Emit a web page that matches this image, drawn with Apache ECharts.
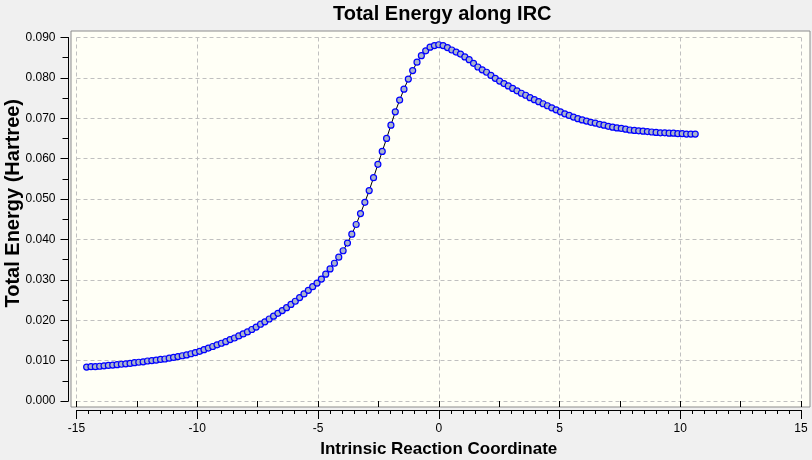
<!DOCTYPE html>
<html>
<head>
<meta charset="utf-8">
<script src="https://cdn.jsdelivr.net/npm/echarts@6/dist/echarts.min.js"></script>
<style>
html,body{margin:0;padding:0;background:#f0f0f0;}
#chart{width:812px;height:460px;}
</style>
</head>
<body>
<div id="chart"></div>
<script>
const titleText = 'Total Energy along IRC';
const xName = 'Intrinsic Reaction Coordinate';
const yName = 'Total Energy (Hartree)';

const irc = [
-14.58,-14.40,-14.22,-14.04,-13.86,-13.68,-13.50,-13.32,-13.14,-12.96,
-12.78,-12.60,-12.42,-12.24,-12.06,-11.88,-11.70,-11.52,-11.34,-11.16,
-10.98,-10.80,-10.62,-10.44,-10.26,-10.08,-9.90,-9.72,-9.54,-9.36,
-9.18,-9.00,-8.82,-8.64,-8.46,-8.28,-8.10,-7.92,-7.74,-7.56,
-7.38,-7.20,-7.02,-6.84,-6.66,-6.48,-6.30,-6.12,-5.94,-5.76,
-5.58,-5.40,-5.22,-5.04,-4.86,-4.68,-4.50,-4.32,-4.14,-3.96,
-3.78,-3.60,-3.42,-3.24,-3.06,-2.88,-2.70,-2.52,-2.34,-2.16,
-1.98,-1.80,-1.62,-1.44,-1.26,-1.08,-0.90,-0.72,-0.54,-0.36,
-0.18,0.00,0.18,0.36,0.54,0.72,0.90,1.08,1.26,1.44,
1.62,1.80,1.98,2.16,2.34,2.52,2.70,2.88,3.06,3.24,
3.42,3.60,3.78,3.96,4.14,4.32,4.50,4.68,4.86,5.04,
5.22,5.40,5.58,5.76,5.94,6.12,6.30,6.48,6.66,6.84,
7.02,7.20,7.38,7.56,7.74,7.92,8.10,8.28,8.46,8.64,
8.82,9.00,9.18,9.36,9.54,9.72,9.90,10.08,10.26,10.44,
10.62
];

const energy = [
0.0084,0.0085,0.0085,0.0086,0.0087,0.0088,0.0089,0.0090,0.0091,0.0092,
0.0093,0.0095,0.0096,0.0097,0.0099,0.0100,0.0101,0.0103,0.0104,0.0106,
0.0108,0.0110,0.0112,0.0114,0.0117,0.0120,0.0123,0.0127,0.0131,0.0135,
0.0139,0.0143,0.0147,0.0152,0.0156,0.0161,0.0166,0.0171,0.0177,0.0183,
0.0190,0.0196,0.0203,0.0210,0.0217,0.0224,0.0231,0.0239,0.0247,0.0256,
0.0265,0.0274,0.0283,0.0292,0.0302,0.0314,0.0327,0.0341,0.0356,0.0372,
0.0391,0.0413,0.0437,0.0464,0.0492,0.0521,0.0553,0.0586,0.0618,0.0650,
0.0683,0.0716,0.0745,0.0772,0.0797,0.0818,0.0839,0.0855,0.0867,0.0876,
0.0880,0.0882,0.0880,0.0875,0.0869,0.0864,0.0859,0.0852,0.0845,0.0836,
0.0827,0.0820,0.0814,0.0806,0.0799,0.0792,0.0786,0.0780,0.0774,0.0768,
0.0762,0.0757,0.0751,0.0746,0.0741,0.0736,0.0731,0.0726,0.0721,0.0716,
0.0711,0.0707,0.0703,0.0699,0.0696,0.0693,0.0690,0.0688,0.0685,0.0683,
0.0680,0.0678,0.0676,0.0675,0.0673,0.0671,0.0670,0.0669,0.0668,0.0667,
0.0666,0.0665,0.0664,0.0664,0.0663,0.0663,0.0662,0.0662,0.0661,0.0661,
0.0661
];

const xMin = -15, xMax = 15, xStep = 5;
const yMin = 0, yMax = 0.09, yStep = 0.01;

const chart = echarts.init(document.getElementById('chart'), null, {renderer: 'canvas'});
const font = '"Liberation Sans", Arial, sans-serif';
const data = irc.map((x, i) => [x, energy[i]]);

chart.setOption({
  backgroundColor: '#f0f0f0',
  animation: false,
  title: {
    text: titleText,
    left: 333,
    top: 4,
    padding: 0,
    textStyle: {fontFamily: font, fontSize: 20, fontWeight: 'bold', color: '#000'}
  },
  grid: [
    {left: 71, right: 2, top: 31, bottom: 53, show: true, backgroundColor: '#fffff6', borderColor: '#8c8c8c', borderWidth: 1, containLabel: false, outerBoundsMode: 'none'},
    {left: 76.5, right: 11, top: 37.5, bottom: 59, containLabel: false, outerBoundsMode: 'none'}
  ],
  xAxis: [
    {gridIndex: 0, type: 'value', show: false, min: 0, max: 1},
    {
      gridIndex: 1, type: 'value', min: xMin, max: xMax, interval: xStep,
      position: 'bottom', offset: 9,
      name: xName, nameLocation: 'middle', nameGap: 31, nameMoveOverlap: false,
      nameTextStyle: {fontFamily: font, fontSize: 17, fontWeight: 'bold', color: '#000'},
      axisLine: {show: true, onZero: false, lineStyle: {color: '#000', width: 1}},
      axisTick: {show: true, length: 9, lineStyle: {color: '#000'}},
      minorTick: {show: true, splitNumber: 10, length: 4, lineStyle: {color: '#000'}},
      axisLabel: {margin: 13, fontFamily: font, fontSize: 12, color: '#000'},
      splitLine: {show: true, lineStyle: {color: '#c0c0c0', type: [4, 3], width: 1}}
    },
    {
      gridIndex: 1, type: 'value', min: xMin, max: xMax, interval: xStep / 2,
      position: 'bottom', offset: 9,
      axisLine: {show: false},
      axisTick: {show: true, length: 6, lineStyle: {color: '#000'}},
      axisLabel: {show: false},
      splitLine: {show: false}
    }
  ],
  yAxis: [
    {gridIndex: 0, type: 'value', show: false, min: 0, max: 1},
    {
      gridIndex: 1, type: 'value', min: yMin, max: yMax, interval: yStep,
      position: 'left', offset: 8,
      name: yName, nameLocation: 'middle', nameGap: 45, nameMoveOverlap: false,
      nameTextStyle: {fontFamily: font, fontSize: 20, fontWeight: 'bold', color: '#000', padding: [0, 0, 0, 32]},
      axisLine: {show: true, onZero: false, lineStyle: {color: '#000', width: 1}},
      axisTick: {show: true, length: 8, lineStyle: {color: '#000'}},
      minorTick: {show: true, splitNumber: 2, length: 6, lineStyle: {color: '#000'}},
      axisLabel: {margin: 13, fontFamily: font, fontSize: 12, color: '#000', formatter: v => v.toFixed(3)},
      splitLine: {show: true, lineStyle: {color: '#c0c0c0', type: [4, 3], width: 1}}
    }
  ],
  series: [{
    type: 'line',
    xAxisIndex: 1, yAxisIndex: 1,
    data: data,
    symbol: 'circle',
    symbolSize: 6,
    showAllSymbol: true,
    lineStyle: {color: '#000', width: 1},
    itemStyle: {color: '#a9b3ca', borderColor: '#0000ff', borderWidth: 1.2},
    emphasis: {disabled: true}
  }]
});
</script>
</body>
</html>
